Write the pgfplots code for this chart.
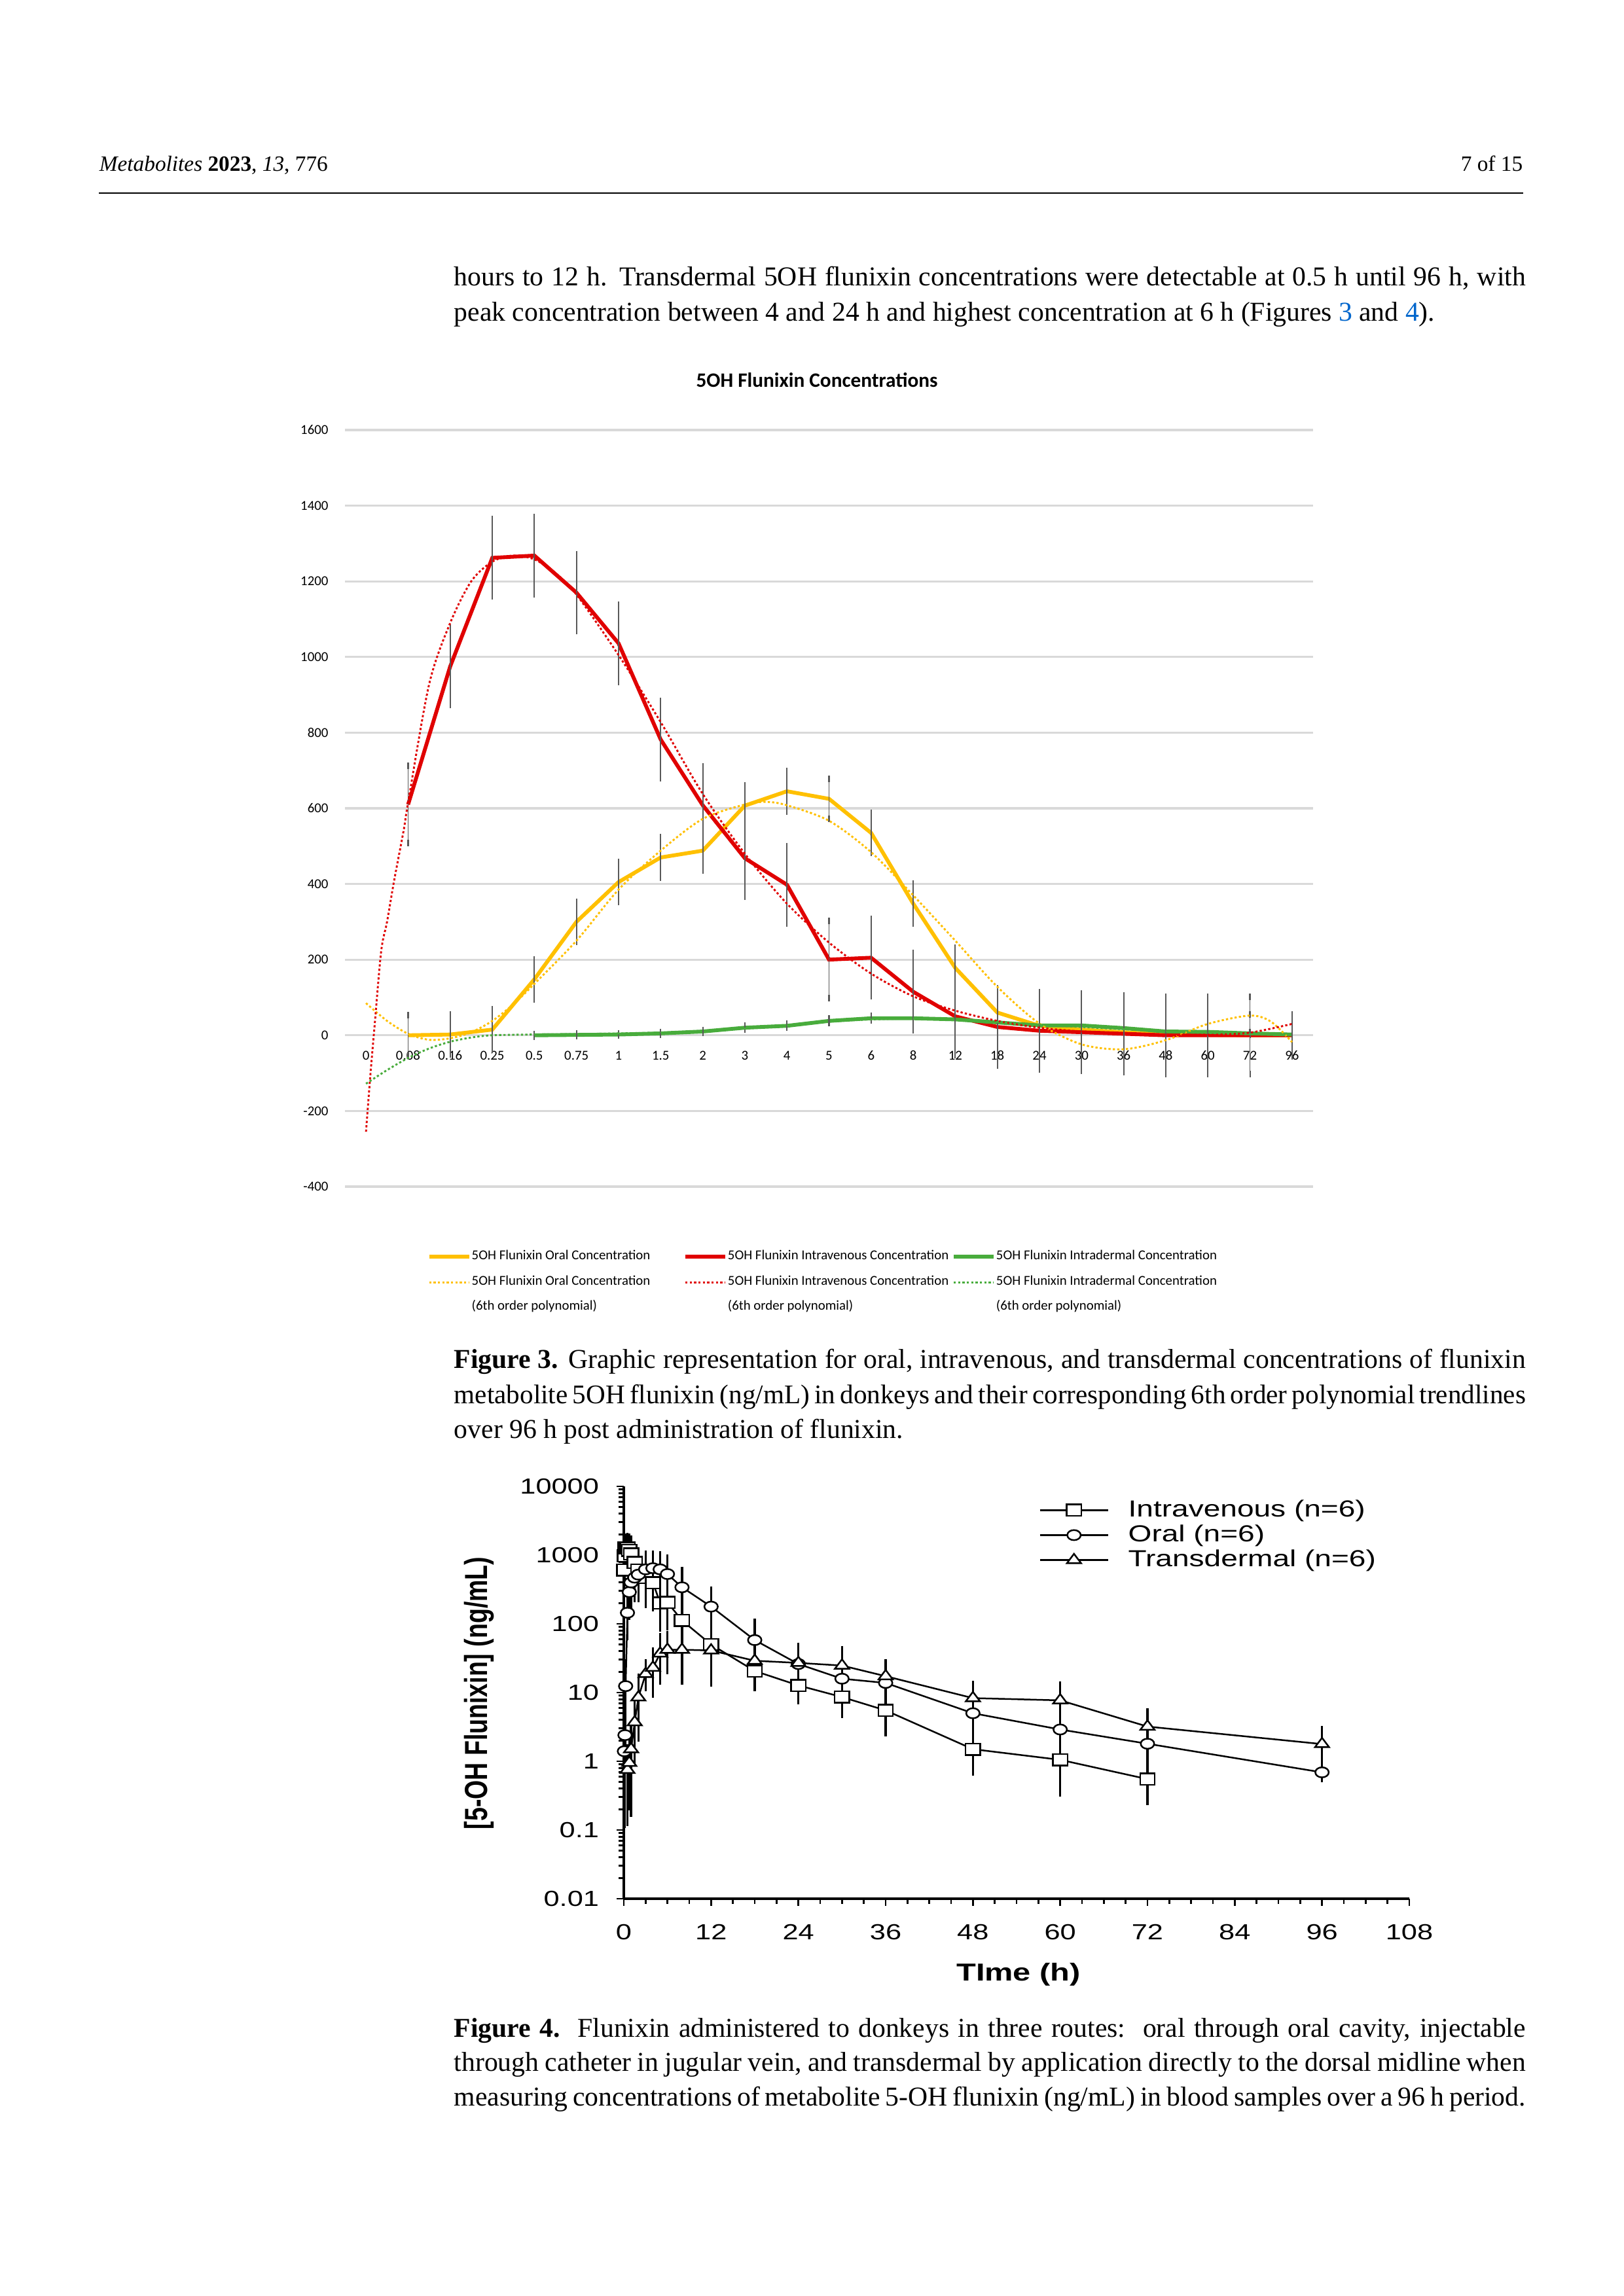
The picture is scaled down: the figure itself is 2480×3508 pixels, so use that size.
\documentclass[border=0pt]{standalone}
\usepackage{pgfplots}
\usepackage{pgfplotstable}
\pgfplotsset{compat=1.18}
\usepackage{fontspec}
\setmainfont{Liberation Serif}
\newfontfamily\carlito{Carlito}
\newfontfamily\arialw[FakeStretch=1.3]{Liberation Sans}
\newfontfamily\arialn{Liberation Sans}
\definecolor{oralc}{RGB}{255,192,0}
\definecolor{ivc}{RGB}{224,0,0}
\definecolor{idc}{RGB}{72,172,60}
\definecolor{errc}{RGB}{89,89,89}
\definecolor{gridc}{RGB}{217,217,217}
\definecolor{linkc}{RGB}{0,102,204}

% ---------- Figure 3 data (x = category index) ----------
\pgfplotstableread{
i y e
1 610 102
2 975 102
3 1262 102
4 1268 102
5 1170 102
6 1036 102
7 782 102
8 608 102
9 468 102
10 398 102
11 200 102
12 205 102
13 115 102
14 50 102
15 22 102
16 12 102
17 8 102
18 4 102
19 0 102
20 0 102
21 0 102
22 0 0
}\ivdata
\pgfplotstableread{
i y e
1 0 53
2 2 53
3 15 53
4 148 53
5 300 53
6 405 53
7 470 53
8 488 53
9 607 53
10 645 53
11 625 53
12 535 53
13 348 53
14 178 53
15 60 53
16 25 55
17 15 55
18 8 55
19 2 55
20 1 55
21 0 55
22 0 55
}\oraldata
\pgfplotstableread{
i y e
4 0 3
5 1 3
6 2 3
7 5 4
8 10 4
9 20 5
10 25 5
11 38 6
12 45 6
13 45 6
14 42 6
15 34 6
16 26 6
17 26 6
18 19 5
19 10 5
20 9 5
21 5 4
22 2 4
}\iddata
\pgfplotstableread{
i y
0 -255
0.1 -110
0.2 20
0.36 222
0.5 300
0.67 410
0.9 545
1 615
1.5 928
2 1090
2.5 1200
3 1252
3.5 1268
4 1258
4.5 1222
5 1165
6 1005
7 828
8 638
9 480
10 348
11 245
12 163
13 103
14 65
15 38
16 20
17 10
18 4
19 1
20 1
21 7
22 30
}\ivtrend
\pgfplotstableread{
i y
0 85
0.5 38
1 4
1.5 -12
2 -8
2.5 8
3 38
3.5 82
4 136
5 250
6 385
7 488
8 572
9 610
9.5 617
10 608
11 567
12 484
13 370
14 250
15 128
16 31
17 -24
18 -37
19 -13
20 30
21 52
21.5 36
22 -18
}\oraltrend
\pgfplotstableread{
i y
0 -128
0.5 -92
1 -60
1.5 -35
2 -17
2.5 -6
3 0
4 2
5 3
6 5
7 7
8 11
9 18
10 26
11 36
12 42
13 44
14 41
15 35
16 28
17 22
18 16
19 10
20 6
21 3
22 2
}\idtrend

% ---------- Figure 4 data (time in h) ----------
\pgfplotstableread{
t y e
0.08 610 90
0.16 975 400
0.25 1268 300
0.5 1265 350
0.75 1170 400
1 1035 450
1.5 780 400
2 610 300
3 470 250
4 398 200
5 200 100
6 205 100
8 112 60
12 50 17
18 20.6 7
24 12.7 4
30 8.6 3
36 5.5 2.5
48 1.5 0.65
60 1.05 0.45
72 0.55 0.05
}\ivlog
\pgfplotstableread{
t y e
0.08 1.4 0.7
0.16 2.4 2.26
0.25 12.4 11.2
0.5 145 70
0.75 290 140
1 400 180
1.5 470 200
2 520 250
3 620 280
4 645 250
5 620 260
6 530 250
8 340 180
12 178 90
18 58 33
24 26 15
30 15.9 10
36 13.8 9
48 5.0 4.2
60 2.9 2.5
72 1.8 1.5
96 0.69 0.05
}\orallog
\pgfplotstableread{
t y e
0.5 0.75 0.6
0.75 0.95 0.7
1 1.5 1.3
1.5 3.7 2.5
2 8.5 6
3 18.6 5
4 23 12
5 37 20
6 42 18
8 42 25
12 41 25
18 29 14
24 27 14
30 24.7 12
36 17.3 6
48 8.3 3
60 7.7 3.5
72 3.2 1.3
96 1.78 0.7
}\tdlog

\begin{document}
\begin{tikzpicture}[x=0.24pt,y=0.24pt]
\useasboundingbox (0,0) rectangle (2480,3508);
\fill[white] (0,0) rectangle (2480,3508);
\coordinate (figA) at (527,1695);
\coordinate (figB) at (953,607);

% ---------- page header ----------
\node[anchor=base west, inner sep=0pt] at (151,3246) {\fontsize{8}{10}\selectfont\textit{Metabolites} \textbf{2023}, \textit{13}, 776};
\node[anchor=base east, inner sep=0pt] at (2327,3246) {\fontsize{8}{10}\selectfont 7 of 15};
\draw[line width=0.6pt] (151,3213) -- (2327,3213);

% ---------- body text ----------
\node[anchor=base west, inner sep=0pt] at (693,3071) {\fontsize{10}{13}\selectfont\makebox[392.9pt][s]{hours to 12 h. Transdermal 5OH flunixin concentrations were detectable at 0.5 h until 96 h, with}};
\node[anchor=base west, inner sep=0pt] at (693,3017) {\fontsize{10}{13}\selectfont peak concentration between 4 and 24 h and highest concentration at 6 h (Figures \textcolor{linkc}{3} and \textcolor{linkc}{4}).};

% ---------- Figure 3 ----------
\node[inner sep=0pt] at (1248,2927) {\fontsize{7.5}{9}\selectfont\carlito\bfseries 5OH Flunixin Concentrations};

\begin{axis}[
  at={(figA)}, anchor=south west,
  scale only axis, width=354.96pt, height=277.44pt,
  xmin=-0.5, xmax=22.5, ymin=-400, ymax=1600,
  axis x line*=middle, axis y line*=left,
  hide obscured y ticks=false, hide obscured x ticks=false,
  x axis line style={draw=gridc, line width=0.75pt},
  y axis line style={draw=none},
  major tick length=0pt,
  xtick={0,...,22},
  xticklabels={0,0.08,0.16,0.25,0.5,0.75,1,1.5,2,3,4,5,6,8,12,18,24,30,36,48,60,72,96},
  ytick={-400,-200,...,1600},
  ymajorgrids, major grid style={gridc, line width=0.75pt},
  /pgf/number format/assume math mode=true,
  /pgf/number format/1000 sep={},
  scaled y ticks=false,
  tick label style={font=\fontsize{5}{6}\selectfont\carlito},
  xticklabel style={yshift=-2.2pt},
  yticklabel style={xshift=-2.6pt},
  legend columns=3,
  legend cell align=left,
  legend style={at={(rel axis cs:0.0845,-0.082)}, anchor=north west, draw=none, fill=none,
    inner sep=0pt, column sep=0pt, row sep=3.9pt,
    font=\fontsize{5}{6}\selectfont\carlito, nodes={inner sep=0.3pt}},
  legend image code/.code={\draw[#1] (0pt,0pt) -- (14.6pt,0pt);},
  error bars/error bar style={errc, line width=0.45pt, solid},
  error bars/error mark options={errc, line width=0.5pt, mark size=1.2pt, solid},
]
\addplot[oralc, line width=1.4pt, error bars/.cd, y dir=both, y explicit] table[x=i, y=y, y error=e] {\oraldata};
\addlegendentry{\makebox[77.3pt][l]{5OH Flunixin Oral Concentration}}
\addplot[ivc, line width=1.4pt, error bars/.cd, y dir=both, y explicit] table[x=i, y=y, y error=e] {\ivdata};
\addlegendentry{\makebox[81.8pt][l]{5OH Flunixin Intravenous Concentration}}
\addplot[idc, line width=1.4pt, error bars/.cd, y dir=both, y explicit] table[x=i, y=y, y error=e] {\iddata};
\addlegendentry{\makebox[90pt][l]{5OH Flunixin Intradermal Concentration}}
\addplot[oralc, line width=0.7pt, smooth, dash pattern=on 0.8pt off 0.8pt] table[x=i, y=y] {\oraltrend};
\addlegendentry{\makebox[77.3pt][l]{\smash{\rlap{\raisebox{-9.1pt}{(6th order polynomial)}}}5OH Flunixin Oral Concentration}}
\addplot[ivc, line width=0.7pt, smooth, dash pattern=on 0.8pt off 0.8pt] table[x=i, y=y] {\ivtrend};
\addlegendentry{\makebox[81.8pt][l]{\smash{\rlap{\raisebox{-9.1pt}{(6th order polynomial)}}}5OH Flunixin Intravenous Concentration}}
\addplot[idc, line width=0.7pt, smooth, dash pattern=on 0.8pt off 0.8pt] table[x=i, y=y] {\idtrend};
\addlegendentry{\makebox[90pt][l]{\smash{\rlap{\raisebox{-9.1pt}{(6th order polynomial)}}}5OH Flunixin Intradermal Concentration}}
\end{axis}

% ---------- Figure 3 caption ----------
\node[anchor=base west, inner sep=0pt] at (693,1417) {\fontsize{10}{13}\selectfont\makebox[392.9pt][s]{\textbf{Figure 3.} Graphic representation for oral, intravenous, and transdermal concentrations of flunixin}};
\node[anchor=base west, inner sep=0pt] at (693,1363) {\fontsize{9.88}{13}\selectfont\makebox[392.9pt][s]{metabolite 5OH flunixin (ng/mL) in donkeys and their corresponding 6th order polynomial trendlines}};
\node[anchor=base west, inner sep=0pt] at (693,1310) {\fontsize{10}{13}\selectfont over 96 h post administration of flunixin.};

% ---------- Figure 4 ----------
\begin{axis}[
  at={(figB)}, anchor=south west,
  scale only axis, width=288pt, height=151.2pt,
  xmin=0, xmax=108, ymin=0.01, ymax=10000,
  ymode=log,
  axis lines*=left,
  axis line style={line width=0.9pt, black},
  tick align=outside,
  tick style={line width=0.7pt, black},
  major tick length=2.6pt, minor tick length=1.9pt,
  xtick={0,12,...,108}, minor x tick num=3,
  ytick={0.01,0.1,1,10,100,1000,10000},
  yticklabels={0.01,0.1,1,10,100,1000,10000},
  minor ytick={0.02,0.03,0.04,0.05,0.06,0.07,0.08,0.09,0.2,0.3,0.4,0.5,0.6,0.7,0.8,0.9,2,3,4,5,6,7,8,9,20,30,40,50,60,70,80,90,200,300,400,500,600,700,800,900,2000,3000,4000,5000,6000,7000,8000,9000},
  /pgf/number format/assume math mode=true,
  /pgf/number format/1000 sep={},
  tick label style={font=\fontsize{8}{9}\selectfont\arialw},
  xticklabel style={yshift=-3.3pt},
  yticklabel style={xshift=-3pt},
  legend cell align=left,
  legend style={at={(rel axis cs:0.528,0.973)}, anchor=north west, draw=none, fill=none,
    inner sep=0pt, row sep=0.3pt, font=\fontsize{8.5}{9.6}\selectfont\arialw,
    nodes={inner sep=0.6pt}},
  legend image code/.code={\draw[mark repeat=2, mark phase=2, #1] plot coordinates {(0pt,0pt) (12.5pt,0pt) (25pt,0pt)};},
  error bars/error bar style={black, line width=0.8pt},
  error bars/error mark options={black, line width=0.8pt, mark size=2.9pt},
]
\addplot[black, line width=0.6pt, mark=square*, mark size=2.1pt, mark options={fill=white, xscale=1.28, line width=0.6pt}, error bars/.cd, y dir=both, y explicit] table[x=t, y=y, y error=e] {\ivlog};
\addlegendentry{\hspace{6.5pt}Intravenous (n=6)}
\addplot[black, line width=0.6pt, mark=*, mark size=1.85pt, mark options={fill=white, xscale=1.33, line width=0.6pt}, error bars/.cd, y dir=both, y explicit] table[x=t, y=y, y error=e] {\orallog};
\addlegendentry{\hspace{6.5pt}Oral (n=6)}
\addplot[black, line width=0.6pt, mark=triangle*, mark size=2.3pt, mark options={fill=white, xscale=1.3, line width=0.6pt}, error bars/.cd, y dir=both, y explicit] table[x=t, y=y, y error=e] {\tdlog};
\addlegendentry{\hspace{6.5pt}Transdermal (n=6)}
\end{axis}
\node[rotate=90, inner sep=0pt] at (732,921) {\scalebox{1}[1.3]{\fontsize{9}{10}\selectfont\arialn\bfseries [5-OH Flunixin] (ng/mL)}};
\node[inner sep=0pt] at (1556,491) {\fontsize{9}{10}\selectfont\arialw\bfseries TIme (h)};

% ---------- Figure 4 caption ----------
\node[anchor=base west, inner sep=0pt] at (693,395) {\fontsize{10}{13}\selectfont\makebox[392.9pt][s]{\textbf{Figure 4.}\ \ Flunixin administered to donkeys in three routes:\ \ oral through oral cavity, injectable}};
\node[anchor=base west, inner sep=0pt] at (693,343) {\fontsize{10}{13}\selectfont\makebox[392.9pt][s]{through catheter in jugular vein, and transdermal by application directly to the dorsal midline when}};
\node[anchor=base west, inner sep=0pt] at (693,290) {\fontsize{10}{13}\selectfont\makebox[392.9pt][s]{measuring concentrations of metabolite 5-OH flunixin (ng/mL) in blood samples over a 96 h period.}};
\end{tikzpicture}
\end{document}
